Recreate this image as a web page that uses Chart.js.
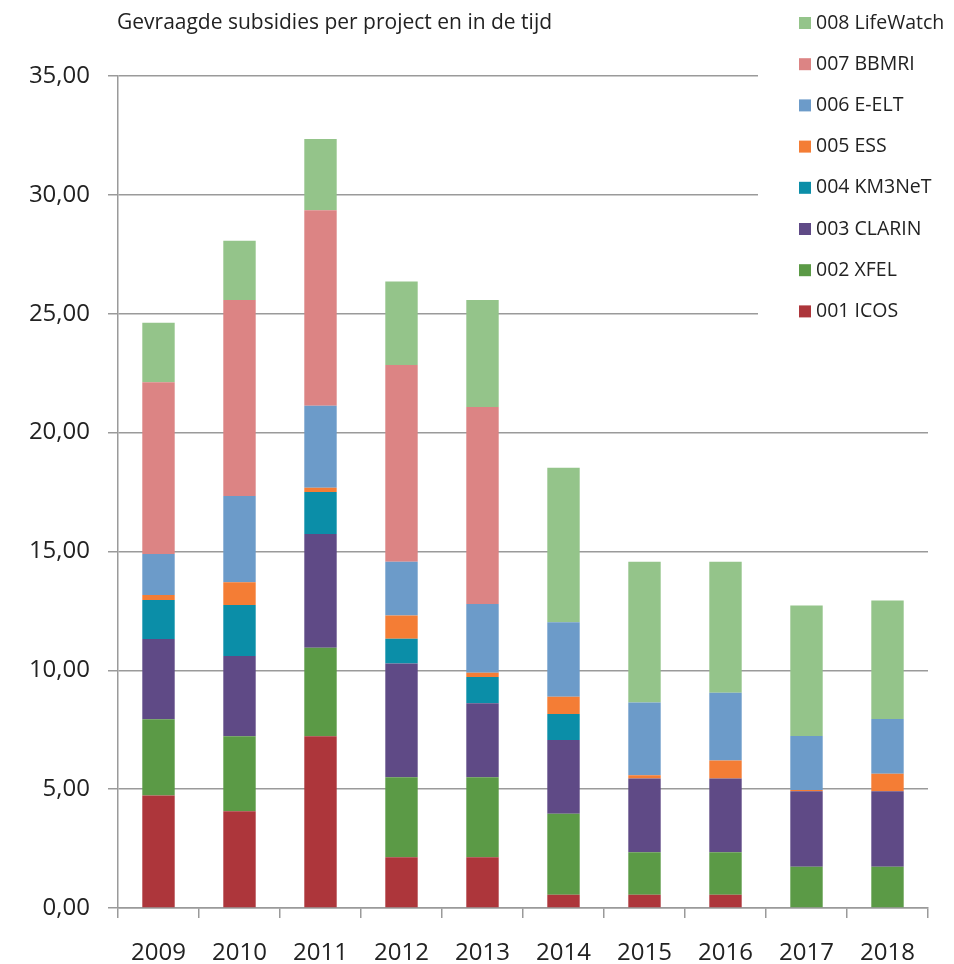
<!DOCTYPE html>
<html>
<head>
<meta charset="utf-8">
<script src="https://cdn.jsdelivr.net/npm/chart.js@4/dist/chart.umd.min.js"></script>
<style>
  html, body { margin: 0; padding: 0; background: #fff; }
  #wrap { width: 954px; height: 964px; position: relative; }
</style>
</head>
<body>
<div id="wrap"><canvas id="subsidieChart"></canvas></div>
<script>
    const TITLE = 'Gevraagde subsidies per project en in de tijd';
    const years = ['2009', '2010', '2011', '2012', '2013', '2014', '2015', '2016', '2017', '2018'];

    // waarden per project (mln)
    const icos      = [4.73, 4.07, 7.22, 2.13, 2.13, 0.56, 0.56, 0.56, 0, 0];
    const xfel      = [3.21, 3.15, 3.73, 3.37, 3.37, 3.41, 1.78, 1.78, 1.74, 1.74];
    const clarin    = [3.38, 3.38, 4.78, 4.79, 3.11, 3.10, 3.11, 3.11, 3.17, 3.17];
    const km3net    = [1.64, 2.15, 1.77, 1.04, 1.11, 1.09, 0, 0, 0, 0];
    const ess       = [0.21, 0.95, 0.18, 0.97, 0.18, 0.73, 0.13, 0.75, 0.05, 0.74];
    const eelt      = [1.72, 3.63, 3.45, 2.27, 2.89, 3.13, 3.06, 2.86, 2.28, 2.30];
    const bbmri     = [7.23, 8.25, 8.22, 8.27, 8.29, 0, 0, 0, 0, 0];
    const lifewatch = [2.50, 2.49, 3.00, 3.51, 4.50, 6.50, 5.93, 5.51, 5.49, 4.99];

    const yTicks = [0, 5, 10, 15, 20, 25, 30, 35];

    const FONT = '"Open Sans", "Noto Sans", sans-serif';
    const TEXT = '#222';
    const GRID = '#9a9a9a';

    function ds(label, data, color) {
        return { label: label, data: data, backgroundColor: color, borderWidth: 0 };
    }

    const datasets = [
        ds('001 ICOS', icos, '#ad363b'),
        ds('002 XFEL', xfel, '#5b9a46'),
        ds('003 CLARIN', clarin, '#5f4a86'),
        ds('004 KM3NeT', km3net, '#0b8ea8'),
        ds('005 ESS', ess, '#f47d35'),
        ds('006 E-ELT', eelt, '#6c9bc9'),
        ds('007 BBMRI', bbmri, '#dc8484'),
        ds('008 LifeWatch', lifewatch, '#94c48a')
    ];

    // titel + legenda rechtsboven (legenda dekt de rasterlijnen af)
    const sidePlugin = {
        id: 'sidePlugin',
        afterDraw(chart) {
            const ctx = chart.ctx;
            const area = chart.chartArea;
            ctx.save();
            ctx.fillStyle = '#fff';
            ctx.fillRect(758, 0, chart.width - 758, 335);

            ctx.fillStyle = TEXT;
            ctx.textBaseline = 'middle';
            ctx.textAlign = 'left';
            ctx.font = '21px ' + FONT;
            ctx.fillText(TITLE, area.left - 1, 23);

            ctx.font = '19.5px ' + FONT;
            const items = chart.data.datasets.slice().reverse();
            items.forEach((d, i) => {
                const cy = 23 + i * 41.2;
                ctx.fillStyle = d.backgroundColor;
                ctx.fillRect(799, cy - 6, 12, 12);
                ctx.fillStyle = TEXT;
                ctx.fillText(d.label, 816, cy);
            });
            ctx.restore();
        }
    };

    new Chart(document.getElementById('subsidieChart'), {
        type: 'bar',
        data: { labels: years, datasets: datasets },
        plugins: [sidePlugin],
        options: {
            responsive: true,
            maintainAspectRatio: false,
            animation: false,
            layout: { padding: { top: 76, right: 26, bottom: 0, left: 0 } },
            datasets: { bar: { categoryPercentage: 1, barPercentage: 0.4 } },
            plugins: {
                legend: { display: false },
                title: { display: false },
                tooltip: { enabled: false }
            },
            scales: {
                x: {
                    stacked: true,
                    grid: { drawOnChartArea: false, offset: true, tickLength: 10, color: GRID, lineWidth: 1.5 },
                    border: { color: GRID, width: 1.5 },
                    ticks: { color: TEXT, font: { family: FONT, size: 24 }, padding: 21, maxRotation: 0 },
                    afterFit(scale) { scale.height = 56; }
                },
                y: {
                    stacked: true,
                    min: 0,
                    max: 35,
                    afterBuildTicks(scale) { scale.ticks = yTicks.map(v => ({ value: v })); },
                    grid: { color: GRID, lineWidth: 1.5, tickLength: 10 },
                    border: { color: GRID, width: 1.5 },
                    ticks: {
                        color: TEXT,
                        font: { family: FONT, size: 24 },
                        padding: 18,
                        callback: v => v.toFixed(2).replace('.', ',')
                    },
                    afterFit(scale) { scale.width = 118; }
                }
            }
        }
    });
</script>
</body>
</html>
